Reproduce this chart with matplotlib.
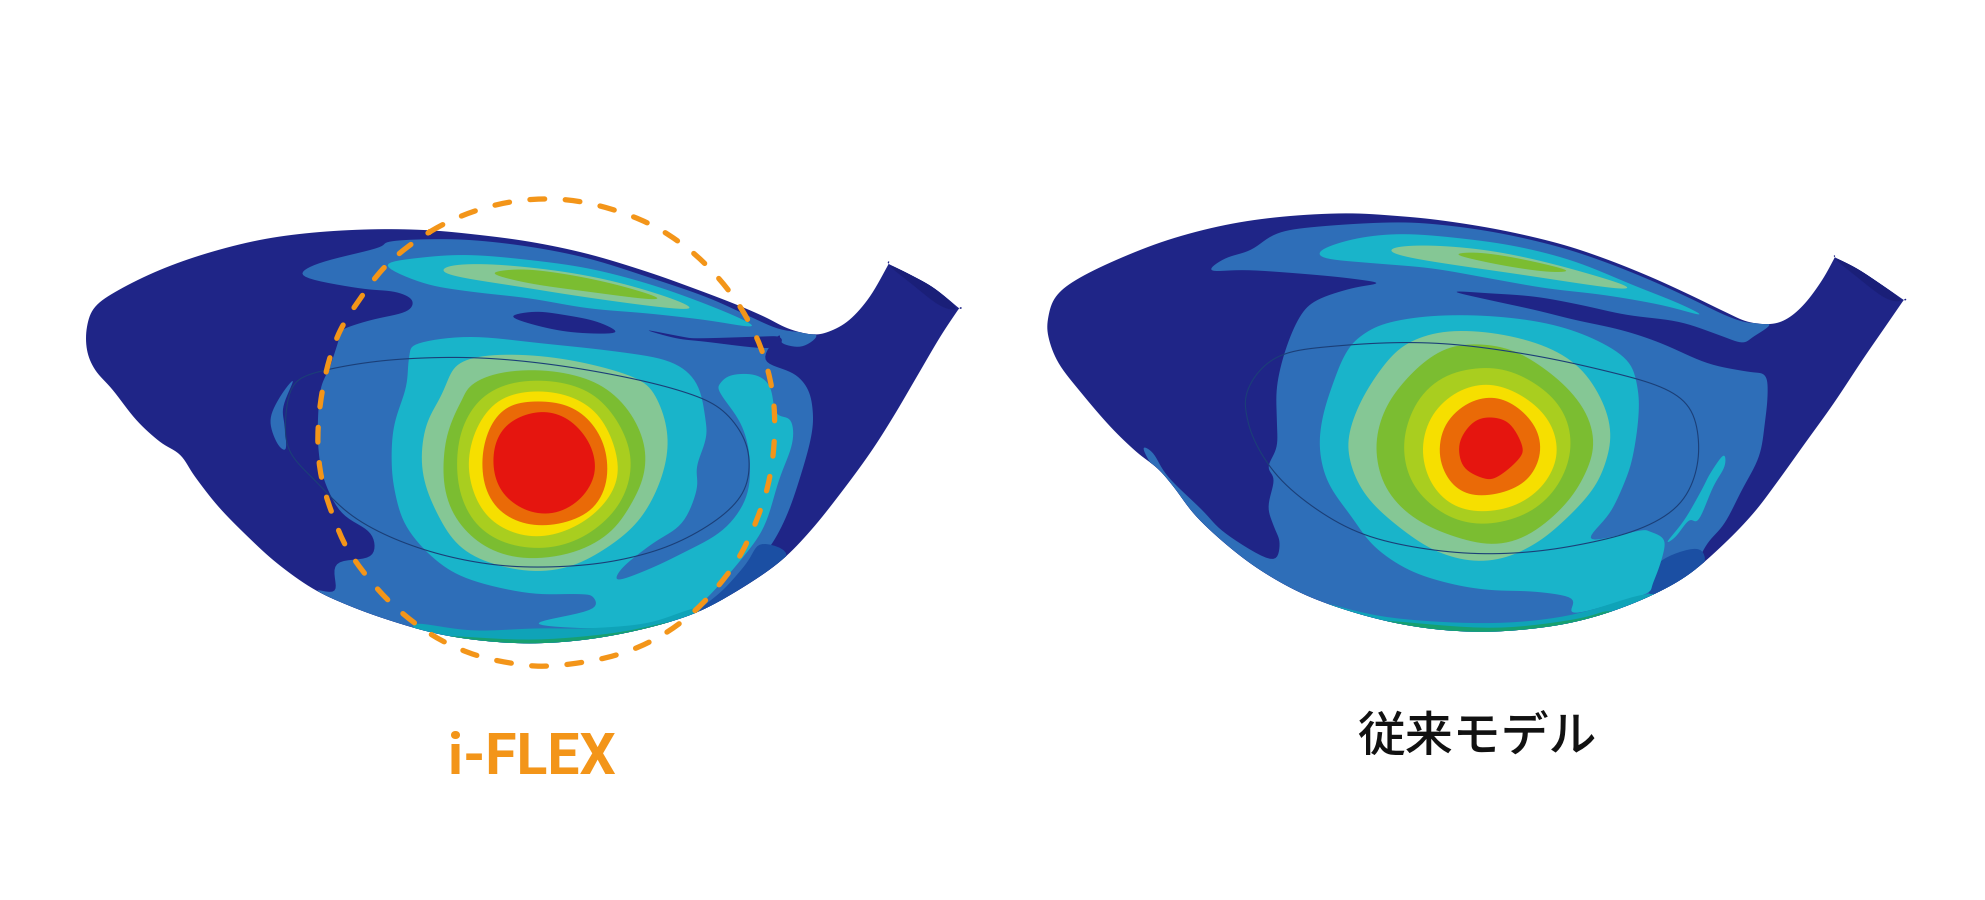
# driver head face deflection maps, i-FLEX vs conventional model
import numpy as np
import matplotlib
matplotlib.use('Agg')
import matplotlib.pyplot as plt
from matplotlib.patches import Polygon

plt.rcParams['font.family'] = ['Noto Sans CJK JP', 'DejaVu Sans']

# ===== COLOURS =====
NAVY = '#1f2587'
BLUE = '#2e6eb8'
TEAL = '#19b4ca'
PALE = '#85c795'
GREEN = '#7bbd31'
LIME = '#a9ce1f'
YELLOW = '#f6df00'
ORANGE = '#ea6a07'
RED = '#e5150f'
DARKTEAL = '#0fa3b8'
EDGEGREEN = '#17a070'
DEEPBLUE = '#1b4fa3'
LIP = '#1a1f78'
DASH = '#f39519'

# ===== LEFT HEAD (i-FLEX) =====
L_OUTLINE = [(530,148),(620,150),(700,162),(800,185),(900,222),(1000,275),(1080,325),(1150,372),(1200,410),(1240,445),(1280,463),(1310,455),(1345,420),(1380,350),(1412,252),(1412,252),(1450,285),(1490,325),(1532,385),(1532,385),(1500,470),(1460,590),(1420,710),(1380,820),(1330,940),(1280,1050),(1230,1140),(1170,1215),(1100,1285),(1040,1325),(960,1360),(880,1382),(800,1390),(720,1382),(640,1360),(560,1320),(490,1275),(430,1225),(370,1150),(320,1070),(270,980),(230,890),(205,825),(170,785),(130,720),(90,630),(60,570),(46,510),(46,440),(60,380),(100,330),(170,270),(250,220),(340,180),(430,158)]
L_LIP = [(1412,255),(1450,285),(1490,325),(1528,385),(1500,378),(1450,310)]
L_BLUE = [(560,185),(620,178),(700,180),(800,200),(900,235),(1000,290),(1100,350),(1170,405),(1230,450),(1290,462),(1265,500),(1230,490),(1225,465),(1200,540),(1250,580),(1275,630),(1283,700),(1280,770),(1265,870),(1240,1000),(1210,1100),(1170,1180),(1140,1240),(1100,1310),(1000,1400),(800,1420),(600,1370),(440,1235),(470,1235),(470,1150),(530,1130),(530,1060),(480,1000),(450,900),(440,800),(440,700),(445,620),(460,560),(475,480),(480,450),(530,420),(590,395),(600,360),(570,335),(510,325),(415,290),(440,250),(540,205)]
L_HOLE1 = [(770,410),(810,395),(860,405),(915,425),(948,458),(880,458),(820,440)]
L_HOLE2 = [(1000,450),(1060,470),(1090,475),(1190,470),(1225,470),(1228,490),(1200,505),(1100,485),(1050,475)]
L_CRESCENT = [(398,600),(375,650),(358,720),(370,790),(385,808),(383,740),(380,680)]
L_RIM = [(1195,1090),(1240,1140),(1110,1300),(1090,1290),(1130,1230),(1170,1150)]
L_TEAL = [(595,530),(610,490),(700,470),(820,490),(950,515),(1040,545),(1085,610),(1100,720),(1100,780),(1085,860),(1085,930),(1060,1030),(1010,1090),(960,1160),(950,1200),(1000,1170),(1060,1120),(1130,1050),(1170,950),(1175,830),(1160,730),(1125,640),(1125,610),(1145,585),(1185,585),(1210,620),(1220,700),(1245,720),(1248,790),(1225,900),(1200,1040),(1160,1140),(1110,1240),(1070,1300),(1000,1340),(900,1345),(810,1330),(905,1290),(908,1250),(880,1242),(800,1240),(700,1200),(640,1140),(590,1040),(570,930),(565,830),(570,730),(590,620)]
L_BOTTOM = [(600,1330),(700,1352),(810,1345),(900,1345),(1000,1330),(1070,1290),(1090,1290),(1000,1400),(800,1420),(650,1400)]
L_EDGE = [(640,1368),(800,1380),(950,1358),(1050,1322),(1080,1340),(950,1420),(700,1420)]
L_TOP_TEAL = [(555,255),(620,232),(700,225),(800,240),(900,265),(1000,310),(1090,365),(1165,420),(1175,440),(1100,420),(1000,400),(900,385),(800,355),(700,335),(620,310)]
L_TOP_PALE = [(645,265),(700,248),(800,262),(900,285),(1000,330),(1080,380),(1060,390),(950,365),(850,340),(750,310),(670,290)]
L_TOP_GREEN = [(738,280),(790,268),(870,285),(950,315),(1015,350),(1000,357),(900,335),(800,310)]
L_PALE = [(665,570),(700,530),(780,522),(880,540),(980,590),(1010,630),(1035,730),(1035,830),(1020,920),(990,1020),(950,1080),(900,1140),(830,1180),(750,1160),(680,1110),(650,1020),(620,920),(615,800),(630,700),(655,640)]
L_GREEN = [(690,640),(715,590),(800,565),(880,585),(940,630),(985,730),(1000,830),(990,920),(960,1010),(920,1090),(830,1140),(750,1125),(700,1070),(660,980),(652,860),(660,750),(680,680)]
L_LIME = [(700,690),(740,620),(810,598),(880,615),(930,670),(965,770),(975,860),(960,960),(920,1040),(860,1100),(790,1105),(730,1070),(690,990),(675,880),(680,770)]
L_YELLOW = [(725,690),(770,640),(830,632),(890,660),(930,730),(950,830),(950,910),(920,990),(870,1050),(810,1075),(760,1050),(720,1000),(697,900),(697,800)]
L_ORANGE = [(750,690),(790,665),(840,665),(885,690),(920,760),(935,850),(925,960),(880,1020),(820,1040),(770,1020),(730,960),(718,860),(725,770)]
L_RED = [(770,720),(810,695),(850,700),(890,750),(915,840),(905,920),(870,985),(820,1007),(775,975),(745,920),(737,840),(745,770)]
L_FACE = [(397,610),(440,575),(520,548),(600,535),(700,532),(800,545),(900,570),(1000,605),(1080,645),(1130,690),(1165,770),(1175,850),(1165,940),(1120,1020),(1050,1090),(980,1130),(900,1155),(800,1162),(720,1150),(640,1120),(560,1070),(490,1000),(440,910),(400,840),(385,780),(385,700)]
L_DASHED = [(630,155),(680,110),(740,75),(800,58),(860,58),(915,75),(970,105),(1020,145),(1070,205),(1110,270),(1150,355),(1180,445),(1200,530),(1215,640),(1218,740),(1215,830),(1205,930),(1185,1030),(1160,1125),(1130,1200),(1090,1280),(1045,1345),(995,1395),(940,1430),(880,1450),(820,1460),(770,1450),(715,1430),(665,1395),(620,1350),(570,1280),(530,1205),(490,1110),(470,1030),(450,930),(440,830),(440,730),(447,630),(460,530),(480,440),(510,360),(545,275),(585,210)]

# ===== RIGHT HEAD (conventional) =====
R_OUTLINE = [(550,70),(640,78),(720,92),(820,120),(920,160),(1000,205),(1080,260),(1150,315),(1210,365),(1250,395),(1290,402),(1320,385),(1350,340),(1380,270),(1402,202),(1402,202),(1440,235),(1480,280),(1522,330),(1522,330),(1490,410),(1450,510),(1400,640),(1350,760),(1300,880),(1260,970),(1210,1060),(1150,1150),(1090,1210),(1020,1260),(950,1295),(880,1315),(800,1325),(720,1320),(640,1300),(560,1265),(480,1215),(410,1150),(350,1075),(290,980),(250,890),(222,835),(185,785),(140,710),(90,610),(50,520),(32,440),(32,380),(45,320),(80,270),(150,210),(240,150),(340,105),(440,80)]
R_LIP = [(1402,205),(1440,235),(1480,280),(1518,330),(1490,325),(1440,260)]
R_BLUE = [(630,97),(720,105),(820,130),(920,170),(1000,215),(1080,270),(1150,325),(1210,375),(1250,398),(1290,402),(1260,440),(1240,458),(1200,435),(1130,395),(1040,375),(960,345),(880,320),(800,310),(740,305),(800,330),(880,360),(950,390),(1030,420),(1100,460),(1180,520),(1250,545),(1280,555),(1285,610),(1280,700),(1270,800),(1240,900),(1210,1000),(1180,1060),(1160,1130),(1160,1170),(1100,1250),(900,1340),(700,1340),(400,1180),(330,1080),(270,980),(220,850),(197,775),(215,790),(240,860),(300,960),(340,1030),(420,1110),(435,1060),(425,1010),(415,950),(425,870),(415,830),(430,770),(430,690),(430,590),(445,480),(470,380),(500,330),(560,295),(605,280),(570,268),(500,255),(380,240),(315,242),(340,205),(385,180),(430,130),(500,110)]
R_RIM = [(1075,1180),(1100,1110),(1165,1075),(1170,1140),(1090,1215)]
R_TEAL = [(575,440),(620,400),(700,378),(800,378),(900,400),(980,445),(1040,510),(1058,590),(1060,680),(1050,800),(1035,880),(1010,970),(975,1050),(1060,1022),(1080,1025),(1105,1050),(1100,1110),(1085,1180),(1075,1210),(1020,1240),(945,1270),(945,1225),(880,1205),(800,1200),(730,1180),(660,1140),(600,1070),(560,980),(520,880),(505,780),(510,680),(530,570),(550,490)]
R_SLIVER = [(1208,795),(1210,830),(1190,890),(1165,990),(1148,990),(1125,1040),(1110,1055),(1140,990),(1170,900),(1185,850)]
R_BOTTOM = [(500,1235),(620,1282),(800,1300),(945,1275),(1075,1210),(1100,1250),(800,1350),(500,1280)]
R_EDGE = [(600,1290),(800,1315),(950,1288),(1010,1262),(1030,1300),(800,1350),(600,1320)]
R_TOP_TEAL = [(510,178),(570,145),(650,132),(750,145),(850,170),(950,215),(1050,285),(1130,340),(1168,375),(1100,345),(1000,315),(900,295),(800,265),(700,235),(600,220),(515,205)]
R_TOP_PALE = [(625,178),(660,165),(750,170),(850,195),(950,240),(1020,275),(1050,298),(1000,292),(900,265),(800,240),(700,215),(640,195)]
R_TOP_GREEN = [(745,195),(780,188),(850,205),(935,240),(900,245),(820,225)]
R_PALE = [(640,480),(690,430),(770,420),(860,445),(940,500),(985,590),(1015,710),(1005,800),(990,880),(950,960),(900,1040),(860,1080),(800,1120),(730,1100),(680,1060),(620,980),(575,900),(555,800),(555,720),(585,600),(620,520)]
R_GREEN = [(660,560),(710,480),(770,460),(840,475),(890,530),(950,610),(985,730),(975,820),(950,910),(900,1000),(830,1070),(760,1050),(690,1010),(630,930),(605,830),(603,720),(630,620)]
R_LIME = [(660,680),(700,570),(770,535),(830,535),(890,590),(930,660),(945,760),(930,860),(890,950),(830,995),(760,1005),(700,950),(660,870),(650,770)]
R_YELLOW = [(685,720),(720,630),(770,585),(820,585),(870,630),(905,690),(920,770),(910,850),(870,930),(810,965),(750,960),(710,910),(685,830)]
R_ORANGE = [(710,750),(740,660),(790,620),(830,630),(870,680),(893,760),(880,840),(850,895),(790,920),(750,905),(720,850)]
R_RED = [(748,760),(770,700),(800,682),(835,700),(858,770),(850,810),(815,860),(790,865),(755,830)]
R_FACE = [(375,620),(395,550),(440,490),(520,470),(620,458),(720,460),(820,480),(920,510),(1020,550),(1100,590),(1150,650),(1165,750),(1160,850),(1130,950),(1060,1020),(970,1060),(880,1085),(780,1092),(680,1075),(580,1035),(500,960),(430,860),(390,750),(378,680)]

LABEL_LEFT = 'i-FLEX'
LABEL_RIGHT = '従来モデル'

ROUND_RINGS = (PALE, GREEN, LIME, YELLOW, ORANGE, RED)


def smooth(pts, win=5, n=8):
	# closed catmull-rom through the traced points, then a circular running mean
	p = np.array(pts, dtype=float)
	p0, p1, p2, p3 = np.roll(p, 1, axis=0), p, np.roll(p, -1, axis=0), np.roll(p, -2, axis=0)
	out = []
	for t in np.linspace(0, 1, n, endpoint=False):
		out.append(0.5 * (2*p1 + (p2-p0)*t + (2*p0-5*p1+4*p2-p3)*t**2 + (3*p1-p0-3*p2+p3)*t**3))
	c = np.stack(out, axis=1).reshape(-1, 2)
	return sum(np.roll(c, k, axis=0) for k in range(-(win//2), win//2 + 1)) / win


def head(ax, to_px, outline, layers, face):
	body = Polygon(smooth(outline, 3) * to_px[0] + to_px[1], closed=True, fc=NAVY, ec='none', zorder=1)
	ax.add_patch(body)
	for pts, col in layers:
		win = 13 if (col in ROUND_RINGS and len(pts) > 9) else 5
		patch = Polygon(smooth(pts, win) * to_px[0] + to_px[1], closed=True, fc=col, ec='none', zorder=2)
		ax.add_patch(patch)
		patch.set_clip_path(body)
	ax.add_patch(Polygon(smooth(face, 9) * to_px[0] + to_px[1], closed=True, fc='none', ec='#1b3f78', lw=0.8, zorder=3))


fig = plt.figure(figsize=(19.85, 9), dpi=100)
ax = fig.add_axes([0, 0, 1, 1])
ax.set_xlim(0, 1985)
ax.set_ylim(900, 0)
ax.axis('off')

# crop coordinates -> full picture pixels
L_MAP = (np.array([1/1.704, 1/3]), np.array([60, 180]))
R_MAP = (np.array([1/1.742, 1/3]), np.array([1030, 190]))

head(ax, L_MAP, L_OUTLINE, [
	(L_LIP, LIP),
	(L_BLUE, BLUE), (L_HOLE1, NAVY), (L_HOLE2, NAVY), (L_CRESCENT, BLUE), (L_RIM, DEEPBLUE),
	(L_TEAL, TEAL), (L_BOTTOM, DARKTEAL), (L_EDGE, EDGEGREEN),
	(L_TOP_TEAL, TEAL), (L_TOP_PALE, PALE), (L_TOP_GREEN, GREEN),
	(L_PALE, PALE), (L_GREEN, GREEN), (L_LIME, LIME), (L_YELLOW, YELLOW), (L_ORANGE, ORANGE), (L_RED, RED),
], L_FACE)

head(ax, R_MAP, R_OUTLINE, [
	(R_LIP, LIP),
	(R_BLUE, BLUE), (R_RIM, DEEPBLUE), (R_TEAL, TEAL), (R_SLIVER, TEAL),
	(R_BOTTOM, DARKTEAL), (R_EDGE, EDGEGREEN),
	(R_TOP_TEAL, TEAL), (R_TOP_PALE, PALE), (R_TOP_GREEN, GREEN),
	(R_PALE, PALE), (R_GREEN, GREEN), (R_LIME, LIME), (R_YELLOW, YELLOW), (R_ORANGE, ORANGE), (R_RED, RED),
], R_FACE)

ring = smooth(L_DASHED, 9) * L_MAP[0] + L_MAP[1]
ring = np.vstack([ring, ring[:1]])
ax.plot(ring[:, 0], ring[:, 1], color=DASH, lw=3.8, dashes=(2.8, 3.9), dash_capstyle='round', zorder=4)

ax.text(532, 752, LABEL_LEFT, color=DASH, fontsize=41, fontweight='bold', family=['Roboto', 'DejaVu Sans'],
	ha='center', va='center_baseline')
ax.text(1477, 733, LABEL_RIGHT, color='#111111', fontsize=34.5, fontweight='medium', ha='center', va='center_baseline')

fig.savefig('out.png', dpi=100, facecolor='white')
